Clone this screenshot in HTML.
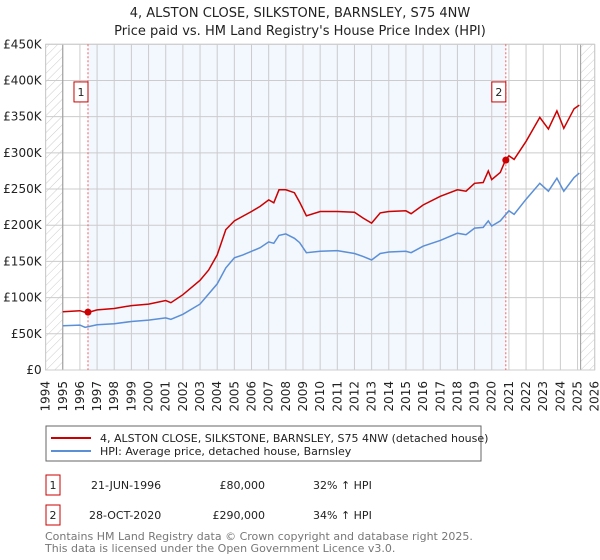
<!DOCTYPE html>
<html><head><meta charset="utf-8"><style>
body{margin:0;background:#fff;font-family:"DejaVu Sans","Liberation Sans",sans-serif;}
#wrap{position:relative;width:600px;height:560px;overflow:hidden;}
</style></head><body>
<div id="wrap">
<svg id="svg" width="600" height="560" xmlns="http://www.w3.org/2000/svg" style="position:absolute;left:0;top:0">
<defs><pattern id="hatch" width="6" height="6" patternUnits="userSpaceOnUse" patternTransform="rotate(45)"><line x1="0" y1="0" x2="0" y2="6" stroke="#ccc" stroke-width="1"/></pattern></defs>
<text x="300" y="17" text-anchor="middle" font-size="13" fill="#222">4, ALSTON CLOSE, SILKSTONE, BARNSLEY, S75 4NW</text>
<text x="300" y="35" text-anchor="middle" font-size="13" fill="#222">Price paid vs. HM Land Registry's House Price Index (HPI)</text>
<g id="plot"></g>
<rect x="46" y="426" width="435" height="35" fill="#fff" stroke="#666"/>
<line x1="51" y1="438" x2="91" y2="438" stroke="#cc0000" stroke-width="2"/>
<text x="100" y="442" font-size="11" fill="#222">4, ALSTON CLOSE, SILKSTONE, BARNSLEY, S75 4NW (detached house)</text>
<line x1="51" y1="451" x2="91" y2="451" stroke="#5b8fd6" stroke-width="2"/>
<text x="100" y="455" font-size="11" fill="#222">HPI: Average price, detached house, Barnsley</text>
<g>
<rect x="46" y="475" width="14" height="20" fill="#fff" stroke="#cc0000"/>
<text x="53" y="489" text-anchor="middle" font-size="11" fill="#222">1</text>
<text x="91" y="489" font-size="11" fill="#222">21-JUN-1996</text>
<text x="265" y="489" text-anchor="end" font-size="11" fill="#222">£80,000</text>
<text x="313" y="489" font-size="11" fill="#222">32% ↑ HPI</text></g>
<g>
<rect x="46" y="505" width="14" height="20" fill="#fff" stroke="#cc0000"/>
<text x="53" y="519" text-anchor="middle" font-size="11" fill="#222">2</text>
<text x="89" y="519" font-size="11" fill="#222">28-OCT-2020</text>
<text x="265" y="519" text-anchor="end" font-size="11" fill="#222">£290,000</text>
<text x="313" y="519" font-size="11" fill="#222">34% ↑ HPI</text></g>
<text x="45" y="540" font-size="11" fill="#777">Contains HM Land Registry data © Crown copyright and database right 2025.</text>
<text x="45" y="552" font-size="11" fill="#777">This data is licensed under the Open Government Licence v3.0.</text>
</svg>
</div>
<script>
const yTicks=[0,50000,100000,150000,200000,250000,300000,350000,400000,450000];
const yTickLabels=["£0","£50K","£100K","£150K","£200K","£250K","£300K","£350K","£400K","£450K"];
const xYears=[1994,1995,1996,1997,1998,1999,2000,2001,2002,2003,2004,2005,2006,2007,2008,2009,2010,2011,2012,2013,2014,2015,2016,2017,2018,2019,2020,2021,2022,2023,2024,2025,2026];
const hpiT=[1995,1996,1996.3,1997,1998,1999,2000,2001,2001.3,2002,2003,2003.5,2004,2004.5,2005,2005.5,2006,2006.5,2007,2007.3,2007.6,2008,2008.5,2008.8,2009.2,2010,2011,2012,2012.5,2013,2013.5,2014,2015,2015.3,2016,2017,2018,2018.5,2019,2019.5,2019.8,2020,2020.5,2021,2021.3,2022,2022.8,2023.3,2023.8,2024.2,2024.8,2025.1];
const hpiV=[61,62,59,62.5,64,67,69,72,70,77,91,105,119,141,155,159,164,169,177,175,186,188,182,176,162,164,165,161,157,152,161,163,164,162,171,179,189,187,196,197,206,199,206,220,215,236,258,247,265,247,266,272];
const propT=[1995,1996,1996.4,1997,1998,1999,2000,2001,2001.3,2002,2003,2003.5,2004,2004.5,2005,2006,2006.5,2007,2007.3,2007.6,2008,2008.5,2008.8,2009.2,2010,2011,2012,2012.5,2013,2013.5,2014,2015,2015.3,2016,2017,2018,2018.5,2019,2019.5,2019.8,2020,2020.5,2020.8,2021,2021.3,2022,2022.8,2023.3,2023.8,2024.2,2024.8,2025.1];
const propV=[80.5,82,79,83,85,89,91,96,93,104,124,138,159,194,206,219,226,235,231,249,249,245,232,213,219,219,218,210,203,217,219,220,216,228,240,249,247,258,259,275,263,273,290,296,291,316,349,333,358,334,361,366];
const saleT=[1996.47,2020.82];
const saleV=[80,290];
const saleLabels=["1","2"];
const L=45.6,R=594.7,T=44.3,B=370;
const x=t=>L+(t-1994)/32*(R-L);
const y=v=>B-v/450000*(B-T);
const NS="http://www.w3.org/2000/svg";
const g=document.getElementById('plot');
function mk(tag,attrs,parent){const e=document.createElementNS(NS,tag);for(const k in attrs)e.setAttribute(k,attrs[k]);(parent||g).appendChild(e);return e;}
let e;
e=mk('rect',{x:x(saleT[0]),y:T,width:x(saleT[1])-x(saleT[0]),height:B-T,fill:'#f3f7fe'});


e=mk('rect',{x:L,y:T,width:x(1995)-L,height:B-T,fill:'url(#hatch)'});


e=mk('rect',{x:x(2025.18),y:T,width:R-x(2025.18),height:B-T,fill:'url(#hatch)'});


yTicks.forEach((v,i)=>{
 e=mk('line',{x1:L,x2:R,y1:y(v),y2:y(v),stroke:'#ccc','stroke-width':1});
 
 
 e=mk('text',{x:L-4,y:y(v)+4,'text-anchor':'end','font-size':12,fill:'#222'});
 e.textContent=yTickLabels[i];
 
 
});
xYears.forEach(yr=>{
 e=mk('line',{x1:x(yr),x2:x(yr),y1:T,y2:B,stroke:'#ccc','stroke-width':1});
 
 
 e=mk('text',{x:0,y:0,'text-anchor':'end','font-size':12,fill:'#222',transform:`translate(${x(yr)+4},${B+11}) rotate(-90)`});
 e.textContent=yr;
 
 
});
e=mk('line',{x1:x(1995),x2:x(1995),y1:T,y2:B,stroke:'#999'});


e=mk('line',{x1:x(2025.18),x2:x(2025.18),y1:T,y2:B,stroke:'#999'});


e=mk('rect',{x:L,y:T,width:R-L,height:B-T,fill:'none',stroke:'#ccc'});


saleT.forEach((t,i)=>{
 e=mk('line',{x1:x(t),x2:x(t),y1:T,y2:B,stroke:'#f06060','stroke-dasharray':'2,2'});
 
 
 e=mk('rect',{x:x(t)-14,y:y(398000),width:14,height:20,fill:'#fff',stroke:'#cc0000'});
 
 
 e=mk('text',{x:x(t)-7,y:y(398000)+14,'text-anchor':'middle','font-size':11,fill:'#222'});
 e.textContent=saleLabels[i];
 
 
});
const path=(ts,vs)=>ts.map((t,i)=>(i?'L':'M')+x(t).toFixed(1)+','+y(vs[i]*1000).toFixed(1)).join('');
e=mk('path',{d:path(hpiT,hpiV),fill:'none',stroke:'#5b8fd6','stroke-width':1.5});


e=mk('path',{d:path(propT,propV),fill:'none',stroke:'#cc0000','stroke-width':1.5});


saleT.forEach((t,i)=>{
 e=mk('circle',{cx:x(t),cy:y(saleV[i]*1000),r:3.5,fill:'#cc0000'});
 
 
});
</script>
</body></html>
